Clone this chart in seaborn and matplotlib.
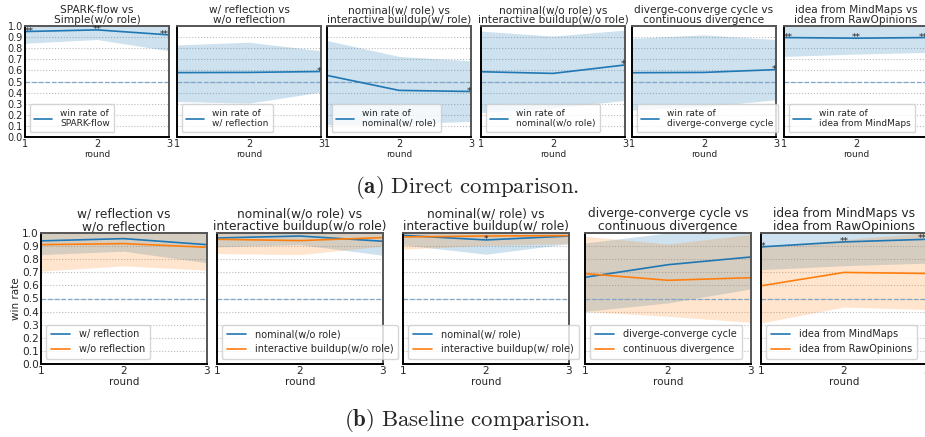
import matplotlib
matplotlib.use("Agg")
import matplotlib.pyplot as plt
import seaborn as sns
import pandas as pd
import numpy as np

sns.set_style("white")
plt.rcParams["font.family"] = ["DejaVu Sans"]
plt.rcParams["mathtext.fontset"] = "cm"

rounds = [1, 2, 3]

# (a) direct comparison
direct_titles = ["SPARK-flow vs\nSimple(w/o role)", "w/ reflection vs\nw/o reflection",
                 "nominal(w/ role) vs\ninteractive buildup(w/ role)",
                 "nominal(w/o role) vs\ninteractive buildup(w/o role)",
                 "diverge-converge cycle vs\ncontinuous divergence",
                 "idea from MindMaps vs\nidea from RawOpinions"]
direct_labels = ["win rate of\nSPARK-flow", "win rate of\nw/ reflection", "win rate of\nnominal(w/ role)",
                 "win rate of\nnominal(w/o role)", "win rate of\ndiverge-converge cycle",
                 "win rate of\nidea from MindMaps"]
direct_mean = [[0.95, 0.965, 0.92], [0.58, 0.582, 0.59], [0.555, 0.42, 0.41],
               [0.588, 0.573, 0.649], [0.579, 0.582, 0.607], [0.896, 0.89, 0.896]]
direct_low = [[0.845, 0.878, 0.777], [0.32, 0.305, 0.405], [0.11, 0.12, 0.14],
              [0.22, 0.26, 0.33], [0.244, 0.274, 0.335], [0.726, 0.747, 0.762]]
direct_high = [[1.0, 1.0, 1.0], [0.829, 0.854, 0.777], [0.869, 0.726, 0.686],
               [0.954, 0.909, 0.963], [0.89, 0.92, 0.878], [1.0, 1.0, 1.0]]
direct_sig = [["**", "**", "**"], ["", "", "*"], ["", "", "*"], ["", "", "*"], ["", "", "*"],
              ["**", "**", "**"]]

# (b) baseline comparison
base_titles = ["w/ reflection vs\nw/o reflection", "nominal(w/o role) vs\ninteractive buildup(w/o role)",
               "nominal(w/ role) vs\ninteractive buildup(w/ role)",
               "diverge-converge cycle vs\ncontinuous divergence",
               "idea from MindMaps vs\nidea from RawOpinions"]
base_names_a = ["w/ reflection", "nominal(w/o role)", "nominal(w/ role)", "diverge-converge cycle",
                "idea from MindMaps"]
base_names_b = ["w/o reflection", "interactive buildup(w/o role)", "interactive buildup(w/ role)",
                "continuous divergence", "idea from RawOpinions"]
base_mean_a = [[0.94, 0.957, 0.911], [0.962, 0.977, 0.937], [0.982, 0.947, 0.977],
               [0.662, 0.758, 0.817], [0.894, 0.932, 0.952]]
base_low_a = [[0.835, 0.861, 0.772], [0.894, 0.911, 0.83], [0.91, 0.838, 0.919],
              [0.402, 0.466, 0.573], [0.72, 0.75, 0.77]]
base_high_a = [[1.0, 1.0, 1.0], [1.0, 1.0, 1.0], [1.0, 1.0, 1.0], [0.924, 1.0, 1.0], [1.0, 1.0, 1.0]]
base_mean_b = [[0.911, 0.919, 0.891], [0.952, 0.942, 0.965], [0.97, 0.977, 0.98],
               [0.69, 0.639, 0.659], [0.597, 0.699, 0.691]]
base_low_b = [[0.709, 0.749, 0.716], [0.843, 0.835, 0.9], [0.876, 0.906, 0.919],
              [0.40, 0.364, 0.318], [0.313, 0.435, 0.415]]
base_high_b = [[1.0, 1.0, 1.0], [1.0, 1.0, 1.0], [1.0, 1.0, 1.0], [0.975, 0.916, 0.99],
               [0.898, 0.95, 1.0]]
base_sig = [["", "", ""], ["", "", ""], ["", "*", ""], ["", "", ""], ["*", "**", "**"]]

BLUE = "#1f77b4"
ORANGE = "#ff7f0e"
W, H = 925, 437

fig = plt.figure(figsize=(W / 100, H / 100), dpi=100)


def px_axes(left, top, width, height):
    return fig.add_axes([left / W, 1 - (top + height) / H, width / W, height / H])


def style_axes(ax, first, fs_tick, fs_title, title):
    ax.set_xlim(1, 3)
    ax.set_ylim(0, 1.0)
    ax.set_xticks(rounds)
    ax.set_yticks(np.round(np.arange(0, 1.01, 0.1), 1))
    ax.grid(axis="y", ls=":", color="#bbbbbb", lw=0.8)
    ax.axhline(0.5, ls="--", color="#7fa6c9", lw=0.9, zorder=1)
    ax.tick_params(direction="in", labelsize=fs_tick, length=3, pad=1.5)
    if not first:
        ax.tick_params(labelleft=False)
    for side in ["left", "bottom"]:
        ax.spines[side].set_color("black")
        ax.spines[side].set_linewidth(1.4)
    for side in ["top", "right"]:
        ax.spines[side].set_color("#555555")
        ax.spines[side].set_linewidth(1.4)
    ax.set_title(title, fontsize=fs_title, pad=2, linespacing=1.0)


def annotate(ax, mean, sig, fs, off):
    aligns = ["left", "center", "right"]
    for r, m, s, ha in zip(rounds, mean, sig, aligns):
        if s:
            ax.text(r, m - off, s, ha=ha, va="baseline", fontsize=fs, color="#222222")


# top row
top_lefts = [25, 177, 327, 481, 632, 784]
for i in range(6):
    ax = px_axes(top_lefts[i], 26, 144, 111)
    df = pd.DataFrame({"round": rounds, "win": direct_mean[i]})
    ax.fill_between(rounds, direct_low[i], direct_high[i], color=BLUE, alpha=0.22, lw=0)
    sns.lineplot(data=df, x="round", y="win", ax=ax, color=BLUE, lw=1.2, label=direct_labels[i])
    style_axes(ax, i == 0, 7, 7.6, direct_titles[i])
    ax.set_xlabel("round", fontsize=6.5, labelpad=1)
    ax.set_ylabel("")
    annotate(ax, direct_mean[i], direct_sig[i], 6.5, 0.02)
    ax.legend(loc="lower left", fontsize=6.5, handlelength=2.0, handletextpad=0.9, borderpad=0.5,
              frameon=True, edgecolor="#cccccc", fancybox=True)

# bottom row
bot_lefts = [41, 217, 403, 585, 761]
for i in range(5):
    ax = px_axes(bot_lefts[i], 233, 166, 131)
    ax.fill_between(rounds, base_low_a[i], base_high_a[i], color=BLUE, alpha=0.22, lw=0)
    ax.fill_between(rounds, base_low_b[i], base_high_b[i], color=ORANGE, alpha=0.2, lw=0)
    df = pd.DataFrame({
        "round": rounds * 2,
        "win": base_mean_a[i] + base_mean_b[i],
        "method": [base_names_a[i]] * 3 + [base_names_b[i]] * 3,
    })
    sns.lineplot(data=df, x="round", y="win", hue="method", ax=ax,
                 palette=[BLUE, ORANGE], lw=1.2)
    style_axes(ax, i == 0, 7.6, 8.8, base_titles[i])
    ax.set_xlabel("round", fontsize=7.5, labelpad=1)
    ax.set_ylabel("win rate" if i == 0 else "", fontsize=7.5, labelpad=1)
    annotate(ax, base_mean_a[i], base_sig[i], 6.5, 0.015)
    ax.legend(loc="lower left", fontsize=7, handlelength=2.0, handletextpad=0.9, borderpad=0.5,
              frameon=True, edgecolor="#cccccc", fancybox=True, title=None)

fig.text(467 / W, 1 - 187 / H, r"$\mathbf{(a)}\ \mathrm{Direct\ comparison.}$",
         ha="center", va="center", fontsize=16.5)
fig.text(467 / W, 1 - 421 / H, r"$\mathbf{(b)}\ \mathrm{Baseline\ comparison.}$",
         ha="center", va="center", fontsize=16.5)

fig.savefig("out.png", dpi=100)
